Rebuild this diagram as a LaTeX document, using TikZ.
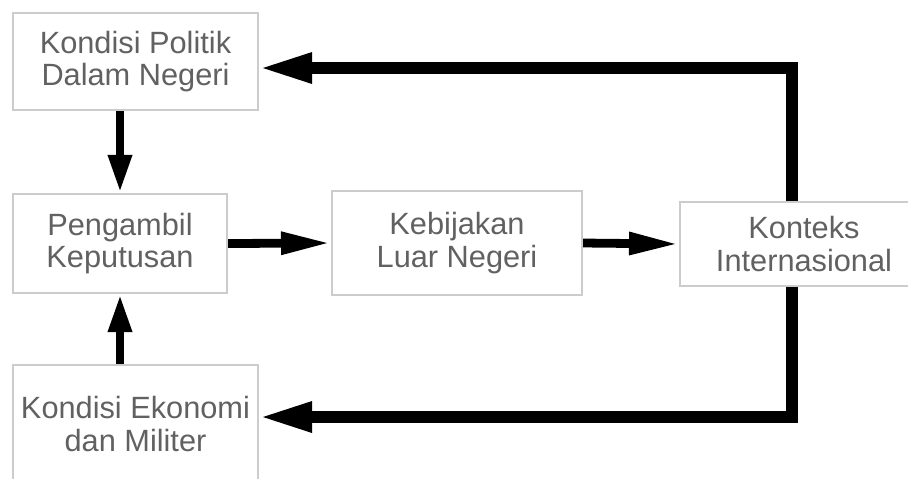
\documentclass[tikz,border=0pt]{standalone}
\usepackage{fontspec}
\setmainfont{Liberation Sans}
\usetikzlibrary{arrows.meta}

\tikzset{
  kotak/.style={draw=black!20, line width=1.2pt, fill=white, text=black!62, align=center,
    font=\fontsize{17.5}{18.5}\selectfont},
  panah/.style={line width=5pt, -{Triangle[length=0.76cm,width=0.44cm]}},
  panahd/.style={line width=5pt, -{Triangle[length=1.0cm,width=0.42cm]}},
  balik/.style={line width=6.5pt, -{Triangle[length=1.06cm,width=0.56cm]}}
}

\begin{document}
\begin{tikzpicture}[x=0.02cm,y=-0.02cm]
\clip (0,0) rectangle (908,478);
\fill[white] (0,0) rectangle (908,478);
% kotak-kotak
\node[kotak, minimum width=4.9cm, minimum height=1.94cm] (pol) at (135.5,61.5) {Kondisi Politik\\Dalam Negeri};
\node[kotak, minimum width=4.28cm, minimum height=1.98cm] (amb) at (120,243.5) {Pengambil\\Keputusan};
\node[kotak, minimum width=4.9cm, minimum height=2.36cm] (eko) at (135.5,424) {Kondisi Ekonomi\\dan Militer};
\node[kotak, minimum width=5cm, minimum height=2.08cm] (keb) at (457,243) {Kebijakan\\Luar Negeri};
\node[kotak, minimum width=4.96cm, minimum height=1.68cm] (kon) at (804,244) {Konteks\\Internasional};
\coordinate (ka) at (792,68);
\coordinate (kb) at (792,417);
% panah
\draw[panah] (pol.south -| amb.north) -- (amb.north);
\draw[panah] (eko.north -| amb.south) -- (amb.south);
\draw[panahd] (amb.east) -- (keb.west);
\draw[panahd] (keb.east) -- (kon.west);
\draw[balik] (kon.north -| ka) -- (ka) -- (ka -| pol.east);
\draw[balik] (kon.south -| kb) -- (kb) -- (kb -| eko.east);
\end{tikzpicture}
\end{document}
